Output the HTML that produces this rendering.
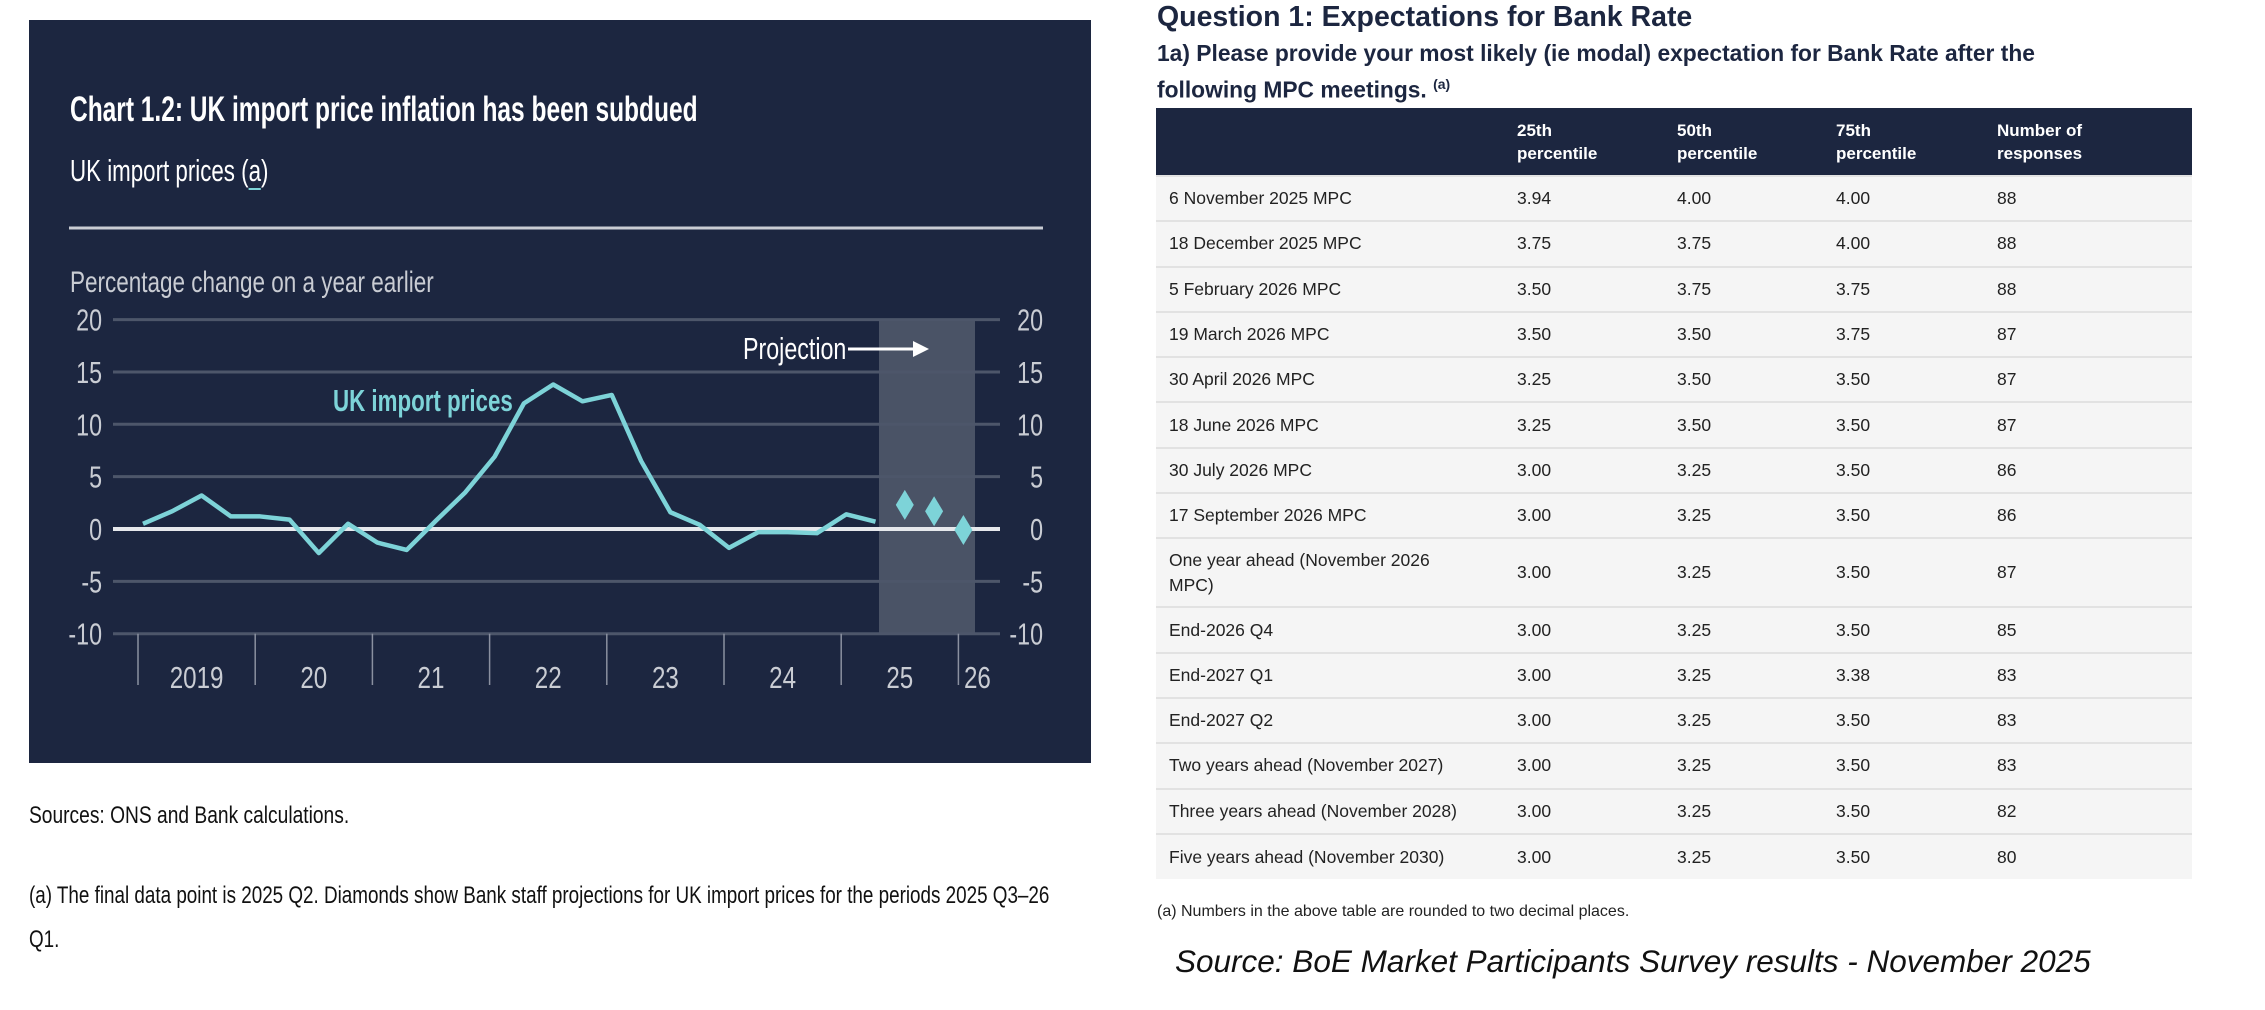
<!DOCTYPE html>
<html><head><meta charset="utf-8"><style>
*{margin:0;padding:0;box-sizing:border-box}
body{width:2265px;height:1010px;background:#fff;position:relative;overflow:hidden;font-family:"Liberation Sans",sans-serif}
.abs{position:absolute;white-space:nowrap;transform-origin:0 0}
table{position:absolute;left:1156px;top:108px;width:1036px;border-collapse:collapse;font-size:17.5px;color:#222}
th{background:#1c2640;color:#fff;text-align:left;font-size:17px;font-weight:bold;line-height:23px;vertical-align:middle;height:68px}
td{background:#f5f5f5;border-top:2px solid #e2e2e2;height:45.3px;vertical-align:middle}
td:first-child{padding-left:13px}
</style></head><body>
<div style="position:absolute;left:29px;top:20px;width:1062px;height:743px;background:#1c2640"></div>
<div class="abs" style="left:70px;top:90px;font-size:35px;font-weight:bold;color:#fff;transform:scaleX(0.7)">Chart 1.2: UK import price inflation has been subdued</div>
<div class="abs" style="left:70px;top:153px;font-size:31px;color:#fff;transform:scaleX(0.72)">UK import prices (<span style="border-bottom:2px solid #7dd3d8">a</span>)</div>
<svg style="position:absolute;left:0;top:0" width="1100" height="780" id="chart">
<line x1="69" y1="228" x2="1043" y2="228" stroke="#c9ccd3" stroke-width="3"/>
<text transform="translate(70,292) scale(0.75,1)" font-family="Liberation Sans,sans-serif" font-size="30" fill="#c9ccd3">Percentage change on a year earlier</text>
</svg>
<div class="abs" style="left:29px;top:802px;font-size:24px;color:#111;transform:scaleX(0.8)">Sources: ONS and Bank calculations.</div>
<div class="abs" style="left:29px;top:874px;font-size:24px;line-height:44px;color:#111;transform:scaleX(0.785)">(a) The final data point is 2025 Q2. Diamonds show Bank staff projections for UK import prices for the periods 2025 Q3–26<br>Q1.</div>

<div class="abs" style="left:1157px;top:1px;font-size:28.5px;font-weight:bold;color:#1c2640">Question 1: Expectations for Bank Rate</div>
<div class="abs" style="left:1157px;top:38px;font-size:22.8px;font-weight:bold;line-height:31px;color:#1c2640">1a) Please provide your most likely (ie modal) expectation for Bank Rate after the<br>following MPC meetings. <sup style="font-size:14px">(a)</sup></div>
<table>
<tr><th style="width:361px"></th><th style="width:160px">25th<br>percentile</th><th style="width:159px">50th<br>percentile</th><th style="width:161px">75th<br>percentile</th><th>Number of<br>responses</th></tr>
<tbody id="tb"></tbody>
</table>
<div class="abs" style="left:1157px;top:903px;font-size:16px;color:#222">(a) Numbers in the above table are rounded to two decimal places.</div>
<div class="abs" style="left:1175px;top:943px;font-size:31.5px;font-style:italic;color:#111">Source: BoE Market Participants Survey results - November 2025</div>
<script>
const rows=[["6 November 2025 MPC","3.94","4.00","4.00","88"],["18 December 2025 MPC","3.75","3.75","4.00","88"],["5 February 2026 MPC","3.50","3.75","3.75","88"],["19 March 2026 MPC","3.50","3.50","3.75","87"],["30 April 2026 MPC","3.25","3.50","3.50","87"],["18 June 2026 MPC","3.25","3.50","3.50","87"],["30 July 2026 MPC","3.00","3.25","3.50","86"],["17 September 2026 MPC","3.00","3.25","3.50","86"],["One year ahead (November 2026<br>MPC)","3.00","3.25","3.50","87"],["End-2026 Q4","3.00","3.25","3.50","85"],["End-2027 Q1","3.00","3.25","3.38","83"],["End-2027 Q2","3.00","3.25","3.50","83"],["Two years ahead (November 2027)","3.00","3.25","3.50","83"],["Three years ahead (November 2028)","3.00","3.25","3.50","82"],["Five years ahead (November 2030)","3.00","3.25","3.50","80"]];
const tb=document.getElementById('tb');
rows.forEach((r,i)=>{const tr=document.createElement('tr');


r.forEach((c,j)=>{const td=document.createElement('td');td.innerHTML=c;


if(i==8){td.style.height='69px';td.style.lineHeight='25px';}tr.appendChild(td);});tb.appendChild(tr);});

const values=[0.5,1.7,3.2,1.2,1.2,0.9,-2.3,0.5,-1.3,-2.0,0.8,3.5,6.9,12.0,13.8,12.2,12.8,6.5,1.6,0.4,-1.8,-0.3,-0.3,-0.4,1.4,0.7];
const projections=[2.3,1.7,-0.1];
const yTicks=[20,15,10,5,0,-5,-10];
const yearLabels=["2019","20","21","22","23","24","25","26"];
const NS="http://www.w3.org/2000/svg",svg=document.getElementById('chart');
const y=v=>529-v*10.47;
const x=q=>138+q*29.3+5;
const yearX=i=>138+i*117.2;
function el(t,a){const e=document.createElementNS(NS,t);for(const k in a)e.setAttribute(k,a[k]);svg.appendChild(e);return e;}
function txt(s,tx,ty,anchor,size,fill,sx,bold){const t=el('text',{transform:`translate(${tx},${ty}) scale(${sx},1)`,'text-anchor':anchor,'font-family':'Liberation Sans,sans-serif','font-size':size,fill:fill,'font-weight':bold?'bold':'normal'});t.textContent=s;return t;}
const sh=el('rect',{x:879,y:y(20),width:96,height:y(-10)-y(20),fill:'#4a5366'});


yTicks.forEach(v=>{const g=el('line',{x1:113,x2:1000,y1:y(v),y2:y(v),stroke:v==0?'#e6e8ec':'#4d566a','stroke-width':v==0?4:3});


[102,1043].forEach(px=>{const t=txt(v,px,y(v)+11,'end',31,'#c9ccd3',0.75);

});});
yearLabels.forEach((l,i)=>{const tk=el('line',{x1:yearX(i),x2:yearX(i),y1:y(-10),y2:685,stroke:'#8a90a0','stroke-width':1.5});


const cx=i<7?yearX(i)+58.6:yearX(i)+19;
const t=txt(l,cx,688,'middle',31,'#c9ccd3',0.78);

});
const ln=el('polyline',{points:values.map((v,i)=>x(i)+','+y(v)).join(' '),fill:'none',stroke:'#7dd3d8','stroke-width':4.5,'stroke-linejoin':'round'});


projections.forEach((v,i)=>{const cx=x(26+i),cy=y(v);const d=el('polygon',{points:`${cx},${cy-15} ${cx+9},${cy} ${cx},${cy+15} ${cx-9},${cy}`,fill:'#7dd3d8'});

});
const lb=txt('UK import prices',333,411,'start',31,'#7dd3d8',0.72,true);


const pl=txt('Projection',743,359,'start',31,'#fff',0.75);


const ar=el('line',{x1:848,x2:915,y1:349,y2:349,stroke:'#fff','stroke-width':3});


el('polygon',{points:'913,341 929,349 913,357',fill:'#fff'});
</script>
</body></html>
